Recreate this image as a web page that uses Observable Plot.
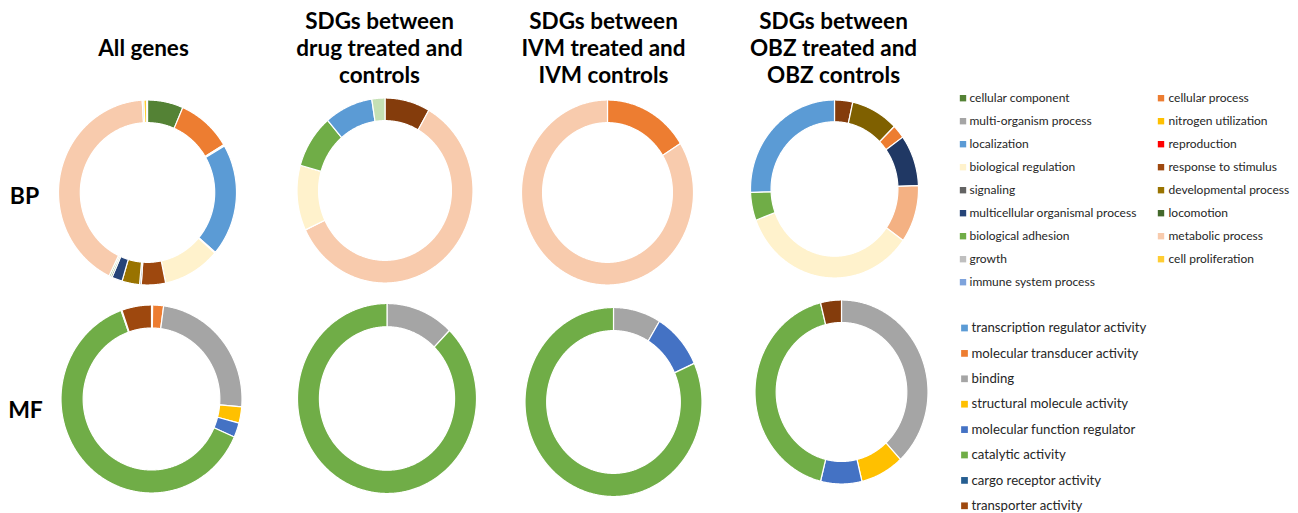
<!DOCTYPE html>
<html><head><meta charset="utf-8">
<script src="https://cdn.jsdelivr.net/npm/d3@7"></script>
<script src="https://cdn.jsdelivr.net/npm/@observablehq/plot@0.6"></script>
<style>body{margin:0;background:#fff}</style>
</head><body><div id="chart"></div>
<script>
// ================= DATA =================
const bpCategories = [
  "cellular component","cellular process","multi-organism process","nitrogen utilization",
  "localization","reproduction","biological regulation","response to stimulus",
  "signaling","developmental process","multicellular organismal process","locomotion",
  "biological adhesion","metabolic process","growth","cell proliferation","immune system process"
];
const mfCategories = [
  "transcription regulator activity","molecular transducer activity","binding",
  "structural molecule activity","molecular function regulator","catalytic activity",
  "cargo receptor activity","transporter activity"
];
const columnTitles = [
  "All genes",
  "SDGs between\ndrug treated and\ncontrols",
  "SDGs between\nIVM treated and\nIVM controls",
  "SDGs between\nOBZ treated and\nOBZ controls"
];
const rowLabels = ["BP", "MF"];

// slice values (%), listed clockwise from 12 o'clock
const bpAllLabels = bpCategories;
const bpAllValues = [6.5, 9.9, 0.15, 0.1, 19.6, 0.15, 10.4, 4.4, 0.3, 3.2, 1.9, 0.3, 0.3, 42.0, 0.3, 0.5, 0.15];
const bpDrugLabels = ["response to stimulus","metabolic process","biological regulation","biological adhesion","localization","growth"];
const bpDrugValues = [8.3, 59.7, 11.4, 9.3, 8.9, 2.4];
const bpIvmLabels = ["cellular process","metabolic process"];
const bpIvmValues = [16.1, 83.9];
const bpObzLabels = ["response to stimulus","developmental process","cellular process","multicellular organismal process","metabolic process","biological regulation","biological adhesion","localization"];
const bpObzValues = [3.5, 9.1, 2.5, 9.3, 10.4, 34.5, 5.1, 25.6];

const mfAllLabels = mfCategories;
const mfAllValues = [0.2, 1.95, 24.2, 2.8, 2.5, 62.95, 0.15, 5.3];
const mfDrugLabels = ["binding","catalytic activity"];
const mfDrugValues = [12.3, 87.7];
const mfIvmLabels = ["binding","molecular function regulator","catalytic activity"];
const mfIvmValues = [8.7, 9.6, 81.7];
const mfObzLabels = ["binding","structural molecule activity","molecular function regulator","catalytic activity","transporter activity"];
const mfObzValues = [38.1, 8.1, 7.7, 42.2, 3.9];

// ================= STYLES =================
const categoryColors = {
  "cellular component":"#548235","cellular process":"#ED7D31","multi-organism process":"#A5A5A5",
  "nitrogen utilization":"#FFC000","localization":"#5B9BD5","reproduction":"#FF0000",
  "biological regulation":"#FFF2CC","response to stimulus":"#9E480E","signaling":"#636363",
  "developmental process":"#997300","multicellular organismal process":"#264478","locomotion":"#43682B",
  "biological adhesion":"#70AD47","metabolic process":"#F8CBAD","growth":"#BFBFBF",
  "cell proliferation":"#FFCD33","immune system process":"#7EA3DC",
  "transcription regulator activity":"#5B9BD5","molecular transducer activity":"#ED7D31","binding":"#A5A5A5",
  "structural molecule activity":"#FFC000","molecular function regulator":"#4472C4","catalytic activity":"#70AD47",
  "cargo receptor activity":"#255E91","transporter activity":"#9E480E"
};
const sliceColorOverrides = {
  "bpDrug|growth":"#C5E0B4", "bpDrug|response to stimulus":"#843C0C",
  "bpObz|metabolic process":"#F4B183", "bpObz|developmental process":"#7F6000",
  "bpObz|multicellular organismal process":"#203864", "bpObz|response to stimulus":"#843C0C",
  "mfObz|transporter activity":"#843C0C"
};

// ================= LAYOUT =================
const donuts = [
  {key:"bpAll",  labels:bpAllLabels,  values:bpAllValues,  cx:147.5, cy:192.5, rx:89, ry:92.5},
  {key:"bpDrug", labels:bpDrugLabels, values:bpDrugValues, cx:385,   cy:190.5, rx:88, ry:92.5},
  {key:"bpIvm",  labels:bpIvmLabels,  values:bpIvmValues,  cx:607.5, cy:192.5, rx:86, ry:92.5},
  {key:"bpObz",  labels:bpObzLabels,  values:bpObzValues,  cx:834.5, cy:189,   rx:84, ry:89},
  {key:"mfAll",  labels:mfAllLabels,  values:mfAllValues,  cx:151.5, cy:399,   rx:90.5, ry:94},
  {key:"mfDrug", labels:mfDrugLabels, values:mfDrugValues, cx:387,   cy:398.5, rx:89.5, ry:95},
  {key:"mfIvm",  labels:mfIvmLabels,  values:mfIvmValues,  cx:613.5, cy:402,   rx:88.5, ry:94.5},
  {key:"mfObz",  labels:mfObzLabels,  values:mfObzValues,  cx:841.5, cy:392,   rx:86.5, ry:92}
];
const innerRatio = 0.755;
const titlePos = [{x:143,y:47},{x:379,y:47},{x:603,y:47},{x:833,y:47}];
const rowPos = [{x:24,y:196},{x:25,y:410}];
const bpLegendCols = [{sx:962.5, tx:969},{sx:1160.5, tx:1168}];
const bpLegendTop = 97.7, bpLegendStep = 23;
const mfLegendCol = {sx:964, tx:971}, mfLegendTop = 327.5, mfLegendStep = 25.4;

// ================= BUILD =================
const ringRows = [];
donuts.forEach(d => {
  const slices = d.labels.map((l, i) => ({label:l, value:d.values[i]}));
  const arcs = d3.pie().sort(null).value(s => s.value)(slices);
  arcs.forEach((a, i) => {
    const color = sliceColorOverrides[d.key + "|" + a.data.label] || categoryColors[a.data.label];
    const n = Math.max(2, Math.ceil((a.endAngle - a.startAngle) / (Math.PI / 360)) + 1);
    for (let k = 0; k < n; k++) {
      const t = a.startAngle + (a.endAngle - a.startAngle) * k / (n - 1);
      ringRows.push({
        id: d.key + "|" + i, color, label: a.data.label,
        x1: d.cx + d.rx * innerRatio * Math.sin(t), y1: d.cy - d.ry * innerRatio * Math.cos(t),
        x2: d.cx + d.rx * Math.sin(t),              y2: d.cy - d.ry * Math.cos(t)
      });
    }
  });
});

const bpLegend = bpCategories.map((c, i) => ({
  label: c, color: categoryColors[c],
  sx: bpLegendCols[i % 2].sx, tx: bpLegendCols[i % 2].tx,
  y: bpLegendTop + Math.floor(i / 2) * bpLegendStep
}));
const mfLegend = mfCategories.map((c, i) => ({
  label: c, color: categoryColors[c], sx: mfLegendCol.sx, tx: mfLegendCol.tx,
  y: mfLegendTop + i * mfLegendStep
}));
const titleRows = columnTitles.map((t, i) => ({text:t, ...titlePos[i]}));
const rowRows = rowLabels.map((t, i) => ({text:t, ...rowPos[i]}));

const W = 1298, H = 513;
const chart = Plot.plot({
  width: W, height: H, margin: 0,
  x: {domain:[0, W], range:[0, W], axis:null},
  y: {domain:[0, H], range:[0, H], axis:null},
  color: {type:"identity"},
  style: {fontFamily:"Lato, 'Open Sans', sans-serif", background:"#fff"},
  marks: [
    Plot.area(ringRows, {x1:"x1", y1:"y1", x2:"x2", y2:"y2", z:"id", fill:"color",
      stroke:"white", strokeWidth:1.2, curve:"linear"}),
    Plot.text(titleRows, {x:"x", y:"y", text:"text", fontSize:22.5, fontWeight:"bold",
      lineHeight:1.2, lineAnchor:"middle", fill:"#000"}),
    Plot.text(rowRows, {x:"x", y:"y", text:"text", fontSize:23, fontWeight:"bold", fill:"#000"}),
    Plot.dot(bpLegend, {x:"sx", y:"y", symbol:"square", r:3.6, fill:"color"}),
    Plot.text(bpLegend, {x:"tx", y:"y", text:"label", textAnchor:"start", fontSize:12, fill:"#262626"}),
    Plot.dot(mfLegend, {x:"sx", y:"y", symbol:"square", r:3.8, fill:"color"}),
    Plot.text(mfLegend, {x:"tx", y:"y", text:"label", textAnchor:"start", fontSize:13.2, fill:"#262626"})
  ]
});
document.getElementById("chart").appendChild(chart);
</script>
</body></html>
